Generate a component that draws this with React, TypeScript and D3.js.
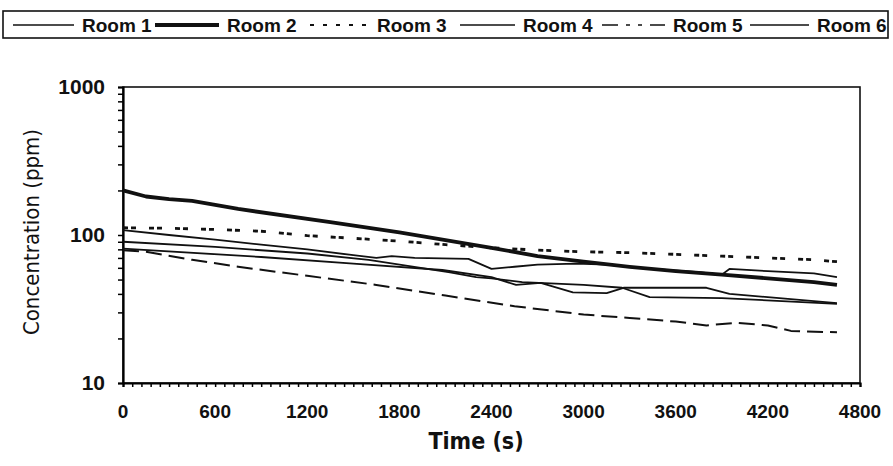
import React, { useEffect, useRef } from "react";
import * as d3 from "d3";

// [time (s), concentration (ppm)]
const room1: [number, number][] = [
  [0, 108], [300, 100], [600, 93], [900, 86], [1200, 80], [1500, 73], [1650, 70],
  [1750, 72], [1900, 70], [2250, 69], [2400, 59], [2550, 61], [2700, 63], [2950, 64],
  [3150, 63], [3450, 59], [3750, 56], [3900, 54], [3950, 59], [4200, 57], [4500, 55], [4650, 52],
];
const room2: [number, number][] = [
  [0, 200], [150, 182], [300, 175], [450, 170], [750, 150], [1350, 122], [1800, 104],
  [2400, 82], [2700, 72], [3000, 66], [3300, 61], [3600, 57], [3900, 54], [4200, 51],
  [4500, 48], [4650, 46],
];
const room3: [number, number][] = [
  [0, 112], [300, 111], [600, 109], [900, 106], [1200, 99], [1500, 95], [1800, 91],
  [2100, 86], [2400, 82], [2700, 79], [3000, 77], [3300, 76], [3600, 74], [3900, 72],
  [4200, 70], [4500, 68], [4650, 66],
];
const room4: [number, number][] = [
  [0, 90], [600, 83], [1200, 75], [1600, 68], [2130, 56], [2300, 52], [2400, 51],
  [2600, 48], [3000, 46], [3250, 44], [3430, 38], [3900, 37.5], [4650, 34.2],
];
const room5: [number, number][] = [
  [0, 79], [150, 77], [450, 68], [750, 61], [1200, 53], [1650, 46], [2100, 39],
  [2550, 33], [3000, 29], [3300, 27.5], [3600, 26], [3800, 24.5], [4000, 25.5],
  [4200, 24.5], [4350, 22.5], [4650, 22],
];
const room6: [number, number][] = [
  [0, 81], [900, 71], [1500, 64], [2080, 58], [2400, 52], [2560, 46], [2720, 47.5],
  [2930, 41], [3150, 40.5], [3260, 44], [3800, 44], [3950, 40], [4650, 34.7],
];

const roomNames = ["Room 1", "Room 2", "Room 3", "Room 4", "Room 5", "Room 6"];
const xTicks = [0, 600, 1200, 1800, 2400, 3000, 3600, 4200, 4800];
const yTicks = [10, 100, 1000];

const App = () => {
  const svgRef = useRef<SVGSVGElement>(null);

  useEffect(() => {
    const svg = d3.select(svgRef.current);
    svg.selectAll("*").remove();

    const width = 893;
    const height = 466;
    const plot = { left: 123, right: 860, top: 87, bottom: 383 };
    const boldFont = "'Liberation Sans', Arial, sans-serif";
    const narrowFont = "'Liberation Sans Narrow', 'DejaVu Sans Condensed', sans-serif";

    svg.attr("width", width).attr("height", height);
    svg.append("rect").attr("width", width).attr("height", height).attr("fill", "#fff");

    const x = d3.scaleLinear().domain([0, 4800]).range([plot.left, plot.right]);
    const y = d3.scaleLog().domain([10, 1000]).range([plot.bottom, plot.top]);

    const styles = [
      { width: 1.8, dash: null },
      { width: 3.8, dash: null },
      { width: 2.8, dash: "5,3,5,13" },
      { width: 1.8, dash: null },
      { width: 2, dash: "16,7" },
      { width: 1.8, dash: null },
    ];
    const legendDash = [null, null, "4,9", null, "16,8,4,8,4,8", null];
    const series = [room1, room2, room3, room4, room5, room6];

    // Legend box
    svg
      .append("rect")
      .attr("x", 3)
      .attr("y", 11)
      .attr("width", 885)
      .attr("height", 27)
      .attr("fill", "none")
      .attr("stroke", "#111")
      .attr("stroke-width", 1.6);

    const legendSample = [13, 155, 310, 460, 602, 750];
    const legendText = [82, 227, 377, 523, 673, 817];
    roomNames.forEach((name, i) => {
      svg
        .append("line")
        .attr("x1", legendSample[i])
        .attr("x2", legendText[i] - 8)
        .attr("y1", 25)
        .attr("y2", 25)
        .attr("stroke", "#111")
        .attr("stroke-width", i === 1 ? 3.8 : i === 2 ? 2 : 1.6)
        .attr("stroke-dasharray", legendDash[i]);
      svg
        .append("text")
        .attr("x", legendText[i])
        .attr("y", 31.5)
        .attr("font-family", boldFont)
        .attr("font-weight", "bold")
        .attr("font-size", 19)
        .attr("fill", "#111")
        .text(name);
    });

    const g = svg.append("g");

    // Frame
    g.append("rect")
      .attr("x", plot.left)
      .attr("y", plot.top)
      .attr("width", plot.right - plot.left)
      .attr("height", plot.bottom - plot.top)
      .attr("fill", "none")
      .attr("stroke", "#111")
      .attr("stroke-width", 1.6);

    // Y axis with log minor ticks
    const yAxis = d3
      .axisLeft(y)
      .tickValues(d3.range(1, 3).flatMap((e) => d3.range(1, 10).map((m) => m * 10 ** e)).concat([1000]))
      .tickSize(5)
      .tickFormat(() => "");
    g.append("g").attr("transform", `translate(${plot.left},0)`).call(yAxis)
      .call((s) => s.select(".domain").attr("stroke-width", 2.2))
      .call((s) => s.selectAll("line").attr("stroke-width", 1.5));

    g.selectAll(".ylab")
      .data(yTicks)
      .enter()
      .append("text")
      .attr("x", plot.left - 18)
      .attr("y", (d) => y(d) + 7)
      .attr("text-anchor", "end")
      .attr("font-family", boldFont)
      .attr("font-weight", "bold")
      .attr("font-size", 21)
      .attr("fill", "#111")
      .text((d) => d);

    // X axis
    const xAxis = d3
      .axisBottom(x)
      .tickValues(d3.range(0, 4801, 60))
      .tickSize(4)
      .tickFormat(() => "");
    g.append("g").attr("transform", `translate(0,${plot.bottom})`).call(xAxis)
      .call((s) => s.select(".domain").attr("stroke-width", 2.2))
      .call((s) => s.selectAll("line").attr("stroke-width", 1.5));

    g.selectAll(".xlab")
      .data(xTicks)
      .enter()
      .append("text")
      .attr("x", (d) => x(d))
      .attr("y", plot.bottom + 35)
      .attr("text-anchor", "middle")
      .attr("font-family", boldFont)
      .attr("font-weight", "bold")
      .attr("font-size", 19)
      .attr("fill", "#111")
      .text((d) => d);

    // Axis titles
    svg
      .append("text")
      .attr("x", 476)
      .attr("y", 449)
      .attr("text-anchor", "middle")
      .attr("font-family", narrowFont)
      .attr("font-weight", "bold")
      .attr("font-size", 23)
      .attr("fill", "#111")
      .text("Time (s)");

    svg
      .append("text")
      .attr("transform", `translate(39,232) rotate(-90)`)
      .attr("text-anchor", "middle")
      .attr("font-family", narrowFont)
      .attr("font-size", 22)
      .attr("fill", "#111")
      .text("Concentration (ppm)");

    // Lines
    const line = d3
      .line<[number, number]>()
      .x((d) => x(d[0]))
      .y((d) => y(d[1]));

    series.forEach((data, i) => {
      g.append("path")
        .datum(data)
        .attr("d", line)
        .attr("fill", "none")
        .attr("stroke", "#111")
        .attr("stroke-width", styles[i].width)
        .attr("stroke-linejoin", "round")
        .attr("stroke-dasharray", styles[i].dash);
    });
  }, []);

  return <svg ref={svgRef} style={{ position: "absolute", left: 0, top: 0 }}></svg>;
};

export default App;
